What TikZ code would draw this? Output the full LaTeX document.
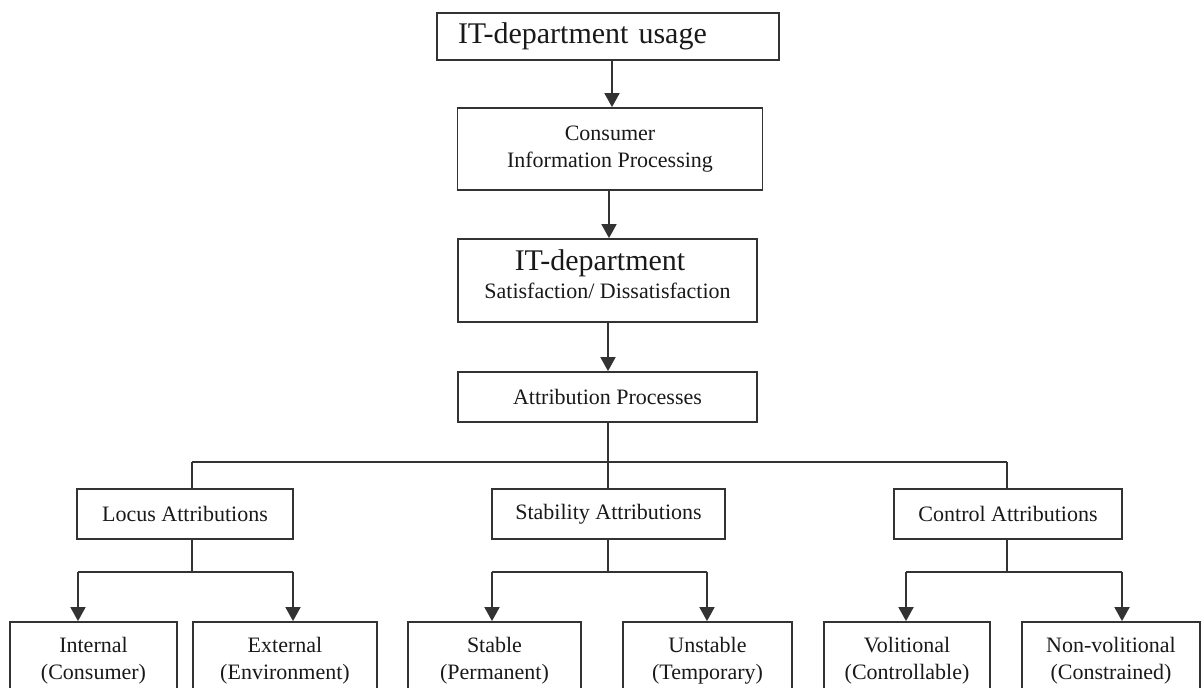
\documentclass[tikz,border=0pt]{standalone}
\usepackage{fontspec}
\setmainfont{Liberation Serif}
\usetikzlibrary{arrows.meta,calc}
\begin{document}
\begin{tikzpicture}[x=1pt,y=-1pt,
  box/.style={draw=black!80,line width=1.8pt,rectangle,inner sep=0pt,align=center,
    text=black!90,font=\fontsize{22}{27}\selectfont},
  big/.style={font=\fontsize{30}{34}\selectfont},
  plain/.style={inner sep=0pt,align=center,text=black!90,font=\fontsize{22}{27}\selectfont},
  link/.style={draw=black!80,line width=1.8pt},
  arr/.style={link,-{Triangle[width=15pt,length=14pt]}}]
\clip (0,0) rectangle (1202,688);
\useasboundingbox (0,0) rectangle (1202,688);

% main column
\node[box,big,minimum width=342pt,minimum height=47pt,text width=300pt,align=left]
  (usage) at (608,36.5) {IT-department usage};
\node[box,minimum width=305pt,minimum height=82pt] (cip) at (610,149)
  {Consumer\\Information Processing};
\node[box,minimum width=299pt,minimum height=83pt] (sat) at (607.5,280.5) {};
\node[plain,font=\fontsize{30}{32}\selectfont,anchor=base] (sat1) at (600,270) {IT-department};
\node[plain,anchor=base] (sat2) at (607.5,298) {Satisfaction/ Dissatisfaction};
\node[box,minimum width=299pt,minimum height=50pt] (attr) at (607.5,397)
  {Attribution Processes};

\draw[arr] (usage.south -| 612,0) -- (cip.north -| 612,0);
\draw[arr] (cip.south -| 609,0) -- (sat.north -| 609,0);
\draw[arr] (sat.south -| 608,0) -- (attr.north -| 608,0);

% attribution dimensions
\node[box,minimum width=216pt,minimum height=50pt] (locus) at (185,514) {Locus Attributions};
\node[box,minimum width=233pt,minimum height=50pt] (stab) at (608.5,514) {Stability Attributions};
\node[box,minimum width=228pt,minimum height=50pt] (ctrl) at (1008,514) {Control Attributions};

\coordinate (bus) at (608,462);
\coordinate (bl) at (192,462);
\coordinate (br) at (1007,462);
\draw[link] (attr.south -| bus) -- (bus);
\draw[link] (bl) -- (br);
\draw[link] (bl) -- (bl |- locus.north);
\draw[link] (bus) -- (stab.north -| bus);
\draw[link] (br) -- (br |- ctrl.north);

% outcome boxes
\node[box,minimum width=167pt,minimum height=78pt] (int) at (93.5,661) {Internal\\(Consumer)};
\node[box,minimum width=184pt,minimum height=78pt] (ext) at (285,661) {External\\(Environment)};
\node[box,minimum width=173pt,minimum height=78pt] (stable) at (494.5,661) {Stable\\(Permanent)};
\node[box,minimum width=169pt,minimum height=78pt] (unst) at (707.5,661) {Unstable\\(Temporary)};
\node[box,minimum width=166pt,minimum height=78pt] (vol) at (907,661) {Volitional\\(Controllable)};
\node[box,minimum width=178pt,minimum height=78pt] (nvol) at (1111,661) {Non-volitional\\(Constrained)};

% locus branches
\coordinate (lj) at (192,572);
\coordinate (la) at (78,572);
\coordinate (lb) at (293,572);
\draw[link] (lj |- locus.south) -- (lj);
\draw[link] (la) -- (lb);
\draw[arr] (la) -- (la |- int.north);
\draw[arr] (lb) -- (lb |- ext.north);

% stability branches
\coordinate (sj) at (608,572);
\coordinate (sa) at (492,572);
\coordinate (sb) at (707,572);
\draw[link] (sj |- stab.south) -- (sj);
\draw[link] (sa) -- (sb);
\draw[arr] (sa) -- (sa |- stable.north);
\draw[arr] (sb) -- (sb |- unst.north);

% control branches
\coordinate (cj) at (1007,572);
\coordinate (ca) at (906,572);
\coordinate (cb) at (1122,572);
\draw[link] (cj |- ctrl.south) -- (cj);
\draw[link] (ca) -- (cb);
\draw[arr] (ca) -- (ca |- vol.north);
\draw[arr] (cb) -- (cb |- nvol.north);
\end{tikzpicture}
\end{document}
